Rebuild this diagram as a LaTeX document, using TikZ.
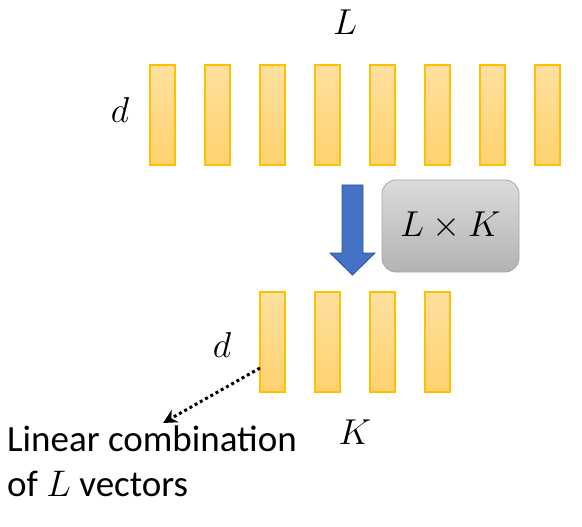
\RequirePackage{fix-cm}
\documentclass[tikz,border=0pt]{standalone}
\usepackage{fontspec}
\setmainfont{Carlito}
\usetikzlibrary{arrows.meta,positioning}
\definecolor{barfill}{HTML}{FFD26E}
\definecolor{barlight}{HTML}{FFE0A0}
\definecolor{baredge}{HTML}{FFC000}
\definecolor{arrblue}{HTML}{4472C4}
\definecolor{arredge}{HTML}{2F528F}
\tikzset{
  vecbar/.style={draw=baredge, line width=1.5pt, top color=barlight, bottom color=barfill,
    minimum width=25pt, minimum height=100pt, inner sep=0pt},
  mathlbl/.style={font=\fontsize{36}{42}\selectfont},
  txtlbl/.style={font=\fontsize{37}{45}\selectfont, align=left, anchor=north west, inner sep=0pt}
}
\begin{document}
\begin{tikzpicture}[x=1pt, y=-1pt]
      \useasboundingbox (0,0) rectangle (582,527);
      % Top row of L vectors
      \foreach \i in {1,...,8} {
        \node[vecbar] (t\i) at (162.5+55*\i-55,115) {};
      }
      \node[mathlbl] (topL) at (345,22) {$L$};
      \node[mathlbl] (topd) at (120,110) {$d$};
      % Down arrow
      \fill[arrblue, draw=arredge, line width=0.8pt] (342,185) -- (363,185) -- (363,253) -- (375,253)
        -- (352.5,275) -- (330,253) -- (342,253) -- cycle;
      % Matrix box
      \node[draw=black!35, line width=0.8pt, rounded corners=14pt, top color=black!14, bottom color=black!30,
        minimum width=137pt, minimum height=92pt, mathlbl] (mat) at (450.5,226) {$L\times K$};
      % Bottom row of K vectors
      \foreach \i in {1,...,4} {
        \node[vecbar] (b\i) at (272.5+55*\i-55,342) {};
      }
      \node[mathlbl] (botd) at (222,345) {$d$};
      \node[mathlbl] (botK) at (355,432) {$K$};
      % Combination note
      \coordinate (cstart) at (260,368);
      \coordinate (cend) at (163,423);
      \draw[line width=3pt, dash pattern=on 3pt off 3pt, -{Stealth[length=14pt,width=14pt]}] (cstart) -- (cend);
      \node[txtlbl] (note) at (7,426) {Linear combination\\of $L$ vectors};
    \end{tikzpicture}
\end{document}
